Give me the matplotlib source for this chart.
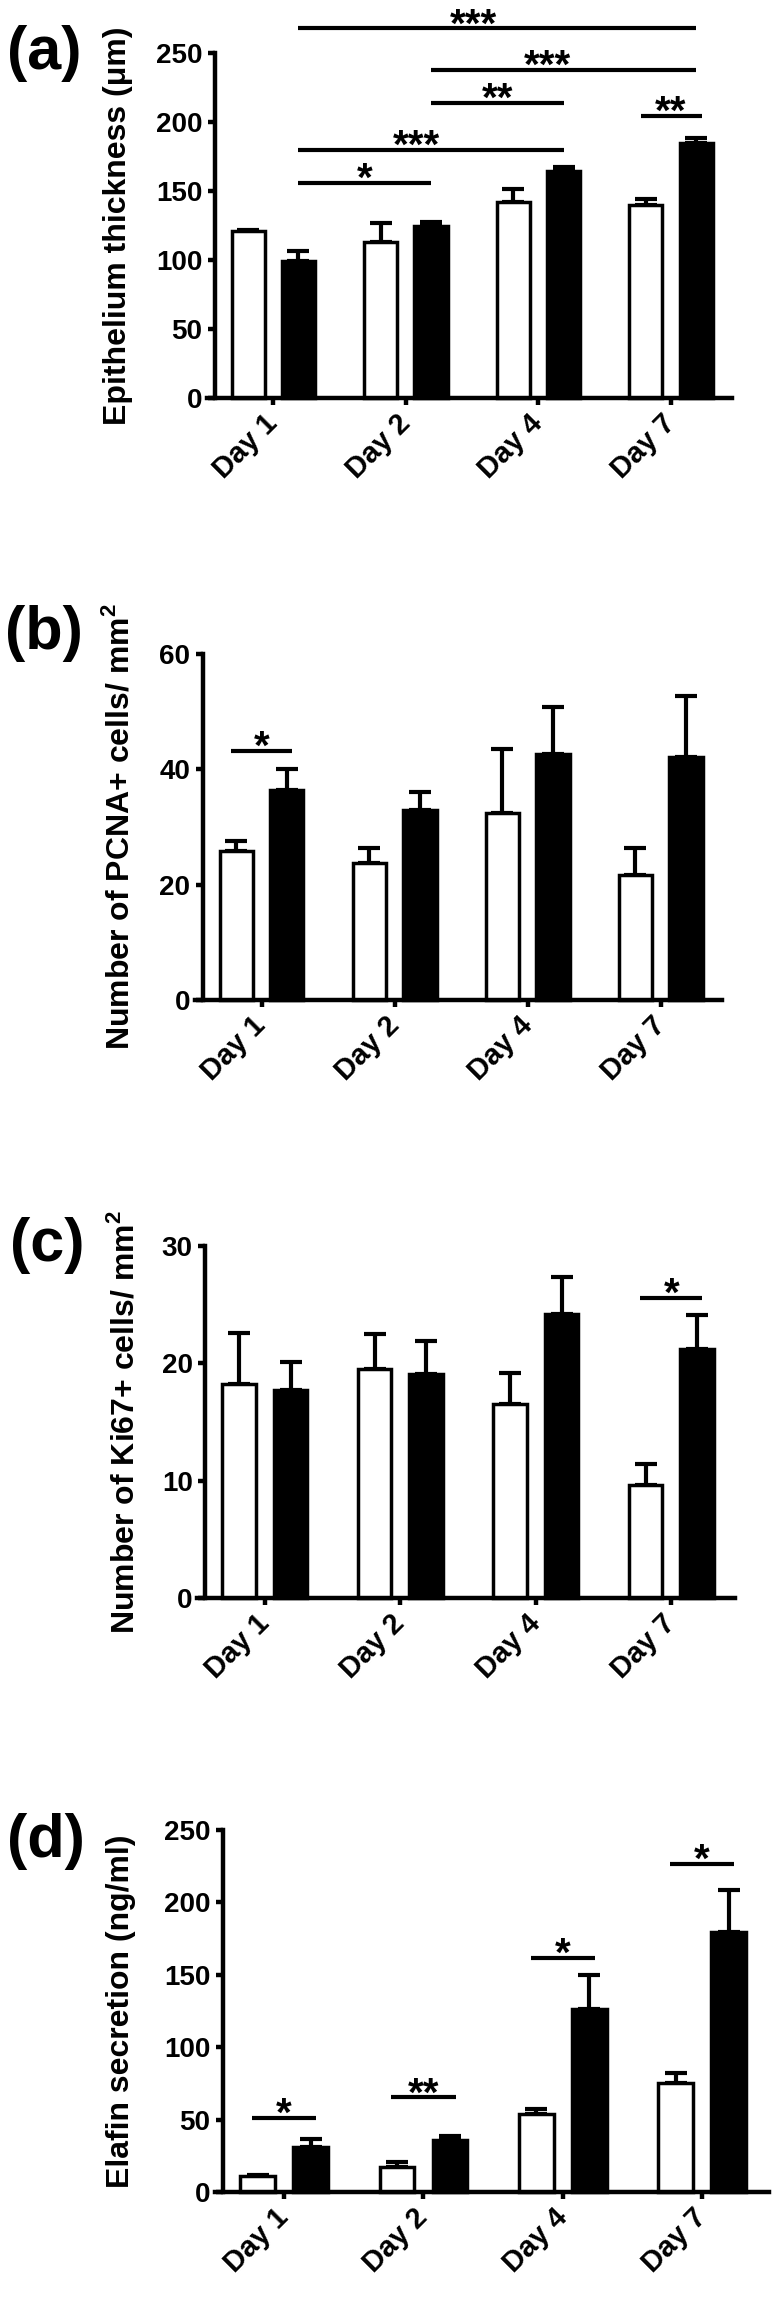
import matplotlib
matplotlib.use("Agg")
import matplotlib.pyplot as plt
import matplotlib.transforms as mtrans
import numpy as np

plt.rcParams['font.family'] = ['Liberation Sans', 'DejaVu Sans']
plt.rcParams['font.weight'] = 'bold'
plt.rcParams['mathtext.default'] = 'bf'

days = ['Day 1', 'Day 2', 'Day 4', 'Day 7']

# (a) Epithelium thickness
a_ctrl = [121.0, 113.0, 142.0, 140.0]
a_ctrl_err = [1.0, 14.0, 9.5, 4.5]
a_trt = [99.0, 125.0, 164.5, 184.7]
a_trt_err = [7.5, 3.0, 3.0, 4.0]

# (b) PCNA+
b_ctrl = [25.9, 23.7, 32.4, 21.6]
b_ctrl_err = [1.6, 2.6, 11.2, 4.7]
b_trt = [36.4, 33.0, 42.7, 42.2]
b_trt_err = [3.6, 3.1, 8.1, 10.6]

# (c) Ki67+
c_ctrl = [18.2, 19.5, 16.5, 9.65]
c_ctrl_err = [4.4, 3.0, 2.7, 1.75]
c_trt = [17.7, 19.1, 24.2, 21.2]
c_trt_err = [2.4, 2.8, 3.2, 2.9]

# (d) Elafin secretion
d_ctrl = [11.0, 17.6, 53.9, 75.6]
d_ctrl_err = [0.7, 3.1, 3.3, 6.4]
d_trt = [30.9, 36.0, 126.1, 179.5]
d_trt_err = [5.9, 2.8, 24.1, 28.9]

# significance: (day_i, bar_i, day_j, bar_j, y, label, star_dx)
a_sig = [(0, 1, 3, 1, 268, '***', -0.18),
         (1, 1, 3, 1, 237.7, '***', -0.12),
         (1, 1, 2, 1, 214, '**', 0.0),
         (3, 0, 3, 1, 204.6, '**', 0.0),
         (0, 1, 2, 1, 179.8, '***', -0.11),
         (0, 1, 1, 1, 156, '*', 0.0)]
b_sig = [(0, 0, 0, 1, 43.2, '*', 0.0)]
c_sig = [(3, 0, 3, 1, 25.6, '*', 0.0)]
d_sig = [(0, 0, 0, 1, 51.3, '*', 0.0),
         (1, 0, 1, 1, 65.4, '**', 0.0),
         (2, 0, 2, 1, 161.6, '*', 0.0),
         (3, 0, 3, 1, 226.5, '*', 0.0)]

W, H = 773, 2300
fig = plt.figure(figsize=(W / 100, H / 100), dpi=100)

OFF = 0.19
BW = 0.25
SPINE_LW = 3.2
EDGE_LW = 2.5

panels = [
    dict(ctrl=a_ctrl, ce=a_ctrl_err, trt=a_trt, te=a_trt_err, sig=a_sig,
         rect=(207, 732, 53.3, 398), xr=3.46, ymax=250, yt=[0, 50, 100, 150, 200, 250],
         ylabel='Epithelium thickness (μm)', ylx=118, tag='(a)', tagx=7, tagy=54),
    dict(ctrl=b_ctrl, ce=b_ctrl_err, trt=b_trt, te=b_trt_err, sig=b_sig,
         rect=(195, 722, 654, 1000), xr=3.46, ymax=60, yt=[0, 20, 40, 60],
         ylabel='Number of PCNA+ cells/ mm$^\\mathregular{2}$', ylx=120, tag='(b)', tagx=5, tagy=633),
    dict(ctrl=c_ctrl, ce=c_ctrl_err, trt=c_trt, te=c_trt_err, sig=c_sig,
         rect=(197, 735, 1246, 1598), xr=3.47, ymax=30, yt=[0, 10, 20, 30],
         ylabel='Number of Ki67+ cells/ mm$^\\mathregular{2}$', ylx=124, tag='(c)', tagx=10, tagy=1245),
    dict(ctrl=d_ctrl, ce=d_ctrl_err, trt=d_trt, te=d_trt_err, sig=d_sig,
         rect=(214.5, 769, 1830, 2192), xr=3.48, ymax=250, yt=[0, 50, 100, 150, 200, 250],
         ylabel='Elafin secretion (ng/ml)', ylx=121, tag='(d)', tagx=7, tagy=1841),
]

for p in panels:
    l, r, t, b = p['rect']
    ax = fig.add_axes([l / W, 1 - b / H, (r - l) / W, (b - t) / H])
    x = np.arange(len(days))
    xc = x - OFF
    xt = x + OFF
    ax.bar(xc, p['ctrl'], width=BW, color='white', edgecolor='black', linewidth=EDGE_LW,
           zorder=3, clip_on=False)
    ax.bar(xt, p['trt'], width=BW, color='black', edgecolor='black', linewidth=EDGE_LW,
           zorder=3, clip_on=False)
    for xs, vals, errs in ((xc, p['ctrl'], p['ce']), (xt, p['trt'], p['te'])):
        eb = ax.errorbar(xs, vals, yerr=[np.zeros(len(vals)), errs], fmt='none',
                         ecolor='black', elinewidth=3.0, capsize=8, capthick=3.0, zorder=2)
        for artist in list(eb.lines[1]) + list(eb.lines[2]):
            artist.set_clip_on(False)
    ax.set_xlim(-0.5, p['xr'])
    ax.set_ylim(0, p['ymax'])
    ax.set_yticks(p['yt'])
    ax.set_xticks(x)
    ax.set_xticklabels(days, rotation=45, ha='right', va='center', rotation_mode='anchor',
                       fontsize=21, fontweight='bold')
    for lab in ax.get_xticklabels():
        lab.set_transform(lab.get_transform() +
                          mtrans.ScaledTranslation(5 / 100, -11 / 100, fig.dpi_scale_trans))
    ax.tick_params(axis='y', labelsize=20, width=SPINE_LW, length=5, direction='out', pad=4)
    ax.tick_params(axis='x', width=SPINE_LW, length=5, direction='out', pad=10)
    for lab in ax.get_yticklabels():
        lab.set_fontweight('bold')
    for s in ('top', 'right'):
        ax.spines[s].set_visible(False)
    ax.spines['left'].set_position(('data', -0.44))
    ax.spines['left'].set_linewidth(SPINE_LW)
    ax.spines['bottom'].set_linewidth(SPINE_LW)
    ax.spines['bottom'].set_zorder(4)
    ax.patch.set_visible(False)

    for (di, bi, dj, bj, yv, lab, sdx) in p['sig']:
        x1 = x[di] + (OFF if bi else -OFF)
        x2 = x[dj] + (OFF if bj else -OFF)
        if di == dj:
            x1 -= 0.04
            x2 += 0.04
        ax.plot([x1, x2], [yv, yv], color='black', lw=3.0, solid_capstyle='butt',
                clip_on=False, zorder=5)
        tr = ax.transData + mtrans.ScaledTranslation(0, -8 / 100, fig.dpi_scale_trans)
        ax.text((x1 + x2) / 2 + sdx, yv, lab, ha='center', va='baseline', fontsize=29,
                fontweight='bold', transform=tr, clip_on=False)

    fig.text(p['ylx'] / W, 1 - ((t + b) / 2) / H, p['ylabel'], rotation=90, ha='center',
             va='center', fontsize=23, fontweight='bold')
    fig.text(p['tagx'] / W, 1 - p['tagy'] / H, p['tag'], ha='left', va='center',
             fontsize=44, fontweight='bold')

fig.savefig('out.png', dpi=100, facecolor='white')
